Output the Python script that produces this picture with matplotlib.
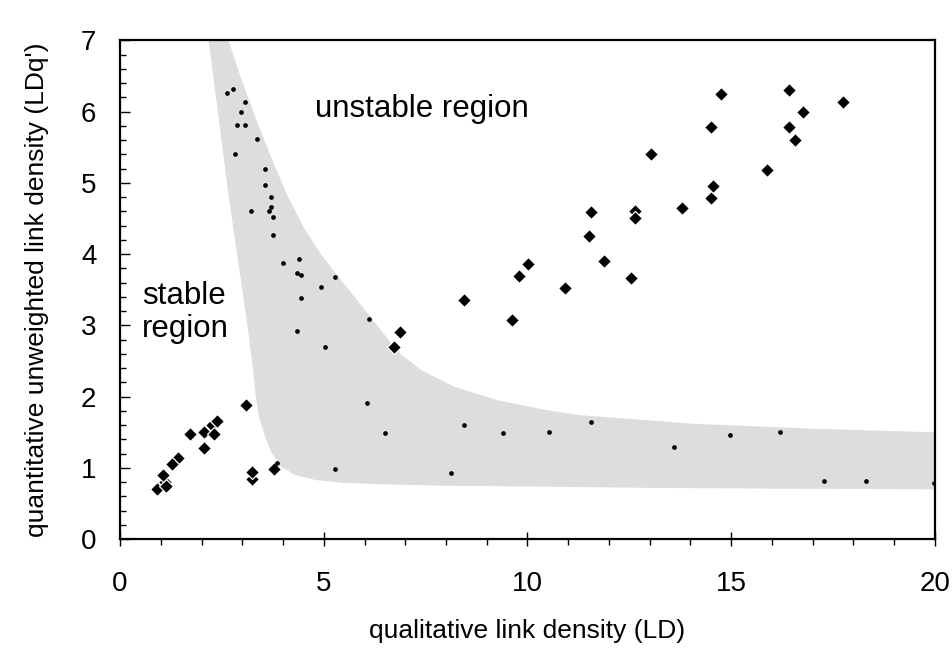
import numpy as np
import matplotlib
matplotlib.use("Agg")
from matplotlib import pyplot as plt

plt.rcParams['font.family'] = ['Liberation Sans', 'DejaVu Sans']

# food webs: qualitative LD vs quantitative unweighted LD (diamonds)
web_ld = [1.10, 0.90, 1.13, 1.06, 1.41, 1.27, 1.72, 2.05, 2.06, 2.25, 2.39,
          2.31, 3.10, 3.24, 3.24, 3.78, 6.73, 6.88, 8.45, 9.63, 9.78, 10.02,
          10.91, 11.50, 11.55, 11.89, 12.53, 12.63, 12.63, 13.02, 13.80,
          14.50, 14.55, 14.50, 14.74, 15.88, 16.42, 16.42, 16.57, 16.76, 17.75]
web_ldq = [0.80, 0.71, 0.75, 0.90, 1.14, 1.05, 1.47, 1.51, 1.28, 1.60, 1.66,
           1.47, 1.89, 0.85, 0.94, 0.98, 2.69, 2.91, 3.36, 3.08, 3.69, 3.86,
           3.52, 4.25, 4.59, 3.91, 3.66, 4.60, 4.50, 5.40, 4.65,
           4.79, 4.96, 5.79, 6.24, 5.18, 6.30, 5.79, 5.60, 5.99, 6.13]

# model webs (small dots)
mod_ld = [2.62, 2.77, 3.07, 2.97, 2.87, 3.07, 3.37, 2.82, 3.56, 3.56, 3.71,
          3.71, 3.66, 3.22, 3.76, 3.76, 4.01, 4.40, 4.35, 4.45, 5.28, 4.94,
          4.45, 6.12, 4.35, 5.04, 6.07, 6.51, 8.43, 9.41, 10.54, 5.28, 8.13,
          11.57, 13.59, 14.97, 16.19, 17.28, 18.31, 19.98, 3.86]
mod_ldq = [6.26, 6.31, 6.14, 6.00, 5.81, 5.81, 5.61, 5.41, 5.19, 4.97, 4.80,
           4.66, 4.60, 4.60, 4.52, 4.27, 3.88, 3.93, 3.74, 3.71, 3.68, 3.54,
           3.38, 3.09, 2.92, 2.69, 1.91, 1.49, 1.60, 1.49, 1.51, 0.98, 0.93,
           1.65, 1.29, 1.46, 1.51, 0.82, 0.82, 0.79, 1.07]

# grey band boundaries
upper_x = [2.66, 2.95, 3.30, 3.70, 4.10, 4.50, 4.90, 5.30, 5.70, 6.10, 6.50,
           6.90, 7.40, 8.20, 9.26, 10.48, 11.30, 14.09, 17.00, 20.0]
upper_y = [7.00, 6.50, 5.95, 5.37, 4.83, 4.38, 4.02, 3.72, 3.44, 3.15, 2.86,
           2.59, 2.37, 2.14, 1.95, 1.81, 1.74, 1.62, 1.55, 1.50]
lower_x = [2.17, 2.40, 2.62, 2.82, 3.00, 3.15, 3.26, 3.33, 3.42, 3.55, 3.73,
           3.95, 4.30, 4.80, 5.50, 6.50, 8.00, 10.0, 13.0, 16.0, 20.0]
lower_y = [7.00, 6.00, 5.00, 4.20, 3.50, 2.90, 2.40, 2.00, 1.70, 1.45, 1.20,
           1.02, 0.90, 0.83, 0.79, 0.77, 0.75, 0.74, 0.72, 0.71, 0.70]

fig = plt.figure(figsize=(9.53, 6.6), dpi=100)
ax = fig.add_axes([0.126, 0.183, 0.855, 0.756])

ax.fill(upper_x + lower_x[::-1], upper_y + lower_y[::-1],
        color='#dddddd', lw=0, zorder=1)

ax.plot(web_ld, web_ldq, 'D', color='black', ms=7.2, mec='white', mew=0.9,
        zorder=3)
ax.plot(mod_ld, mod_ldq, 'o', color='black', ms=3.4, mew=0, zorder=4)

ax.text(4.79, 6.04, 'unstable region', fontsize=22.5, va='center', ha='left')
ax.text(0.54, 3.18, 'stable\nregion', fontsize=22.5, va='center', ha='left',
        linespacing=1.1)

ax.set_xlim(0, 20)
ax.set_ylim(0, 7)
ax.set_xticks([0, 5, 10, 15, 20])
ax.set_xticks(range(0, 21), minor=True)
ax.set_yticks(range(0, 8))
ax.set_yticks(np.arange(0, 7.01, 0.2), minor=True)
ax.tick_params(axis='x', which='major', direction='inout', length=10,
               width=1, labelsize=20, pad=18)
ax.tick_params(axis='x', which='minor', direction='out', length=4, width=1)
ax.tick_params(axis='y', which='major', direction='in', length=7, width=1,
               labelsize=20, pad=17)
ax.tick_params(axis='y', which='minor', direction='in', length=4.5, width=1)
for s in ax.spines.values():
    s.set_linewidth(1.6)

ax.set_xlabel('qualitative link density (LD)', fontsize=19, labelpad=16)
ax.set_ylabel("quantitative unweighted link density (LDq')", fontsize=19,
              labelpad=23)

fig.savefig('out.png', dpi=100)
